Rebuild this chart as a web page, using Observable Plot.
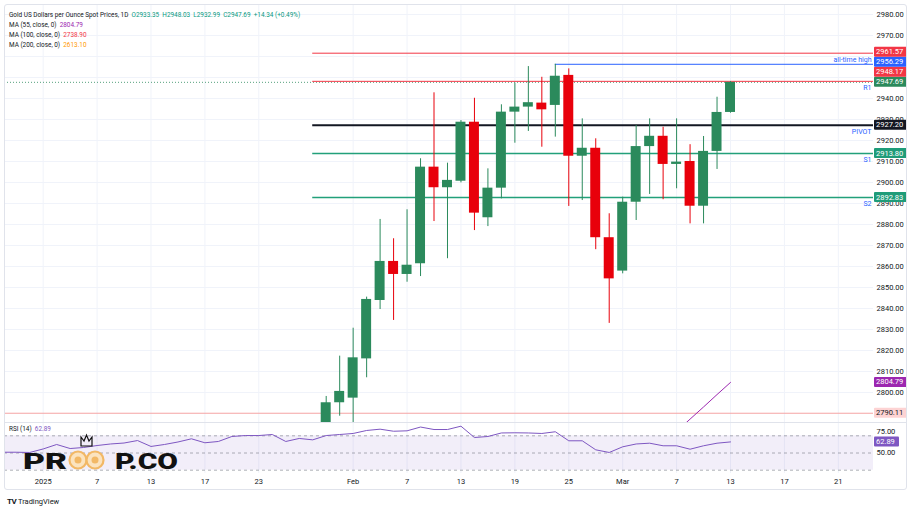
<!DOCTYPE html>
<html>
<head>
<meta charset="utf-8">
<script src="https://cdn.jsdelivr.net/npm/d3@7"></script>
<script src="https://cdn.jsdelivr.net/npm/@observablehq/plot@0.6"></script>
<style>
  html, body { margin: 0; padding: 0; background: #ffffff; }
  body { font-family: Roboto, "Liberation Sans", sans-serif; }
  #wrap { position: relative; width: 912px; height: 513px; overflow: hidden; background: #fff; }
  #frame { position: absolute; left: 4px; top: 4px; width: 903px; height: 486px; border: 1px solid #e0e3eb; border-radius: 3px; box-sizing: border-box; }
  #price { position: absolute; left: 0; top: 0; }
  #rsi { position: absolute; left: 0; top: 422px; }
  #sep { position: absolute; left: 4px; top: 422px; width: 903px; height: 1px; background: #e0e3eb; }
  .legend { position: absolute; left: 9px; top: 10px; font-size: 6.4px; line-height: 10px; color: #131722; white-space: nowrap; }
  .rsilab { position: absolute; left: 9px; top: 425px; font-size: 6.4px; color: #131722; white-space: nowrap; }
  #footer { position: absolute; left: 7px; top: 497px; font-size: 7.5px; color: #131722; white-space: nowrap; }
  #logo { position: absolute; left: 0; top: 422px; pointer-events: none; }
</style>
</head>
<body>
<div id="wrap">
  <div id="price"></div>
  <div id="rsi"></div>
  <div id="sep"></div>
  <div id="frame"></div>
  <div class="legend" id="legend"></div>
  <div class="rsilab" id="rsilab"></div>
  <svg id="logo" width="220" height="60"></svg>
  <div id="footer"><b style="font-size:8px;letter-spacing:-0.5px">TV</b> TradingView</div>
</div>
<script>
// ---------------- DATA ----------------
const barDays = ["Dec 27","Dec 30","Dec 31","Jan 1","Jan 2","Jan 3","Jan 6","Jan 7","Jan 8","Jan 9","Jan 10",
  "Jan 13","Jan 14","Jan 15","Jan 16","Jan 17","Jan 20","Jan 21","Jan 22","Jan 23","Jan 24","Jan 27","Jan 28",
  "Jan 29","Jan 30","Jan 31","Feb 3","Feb 4","Feb 5","Feb 6","Feb 7","Feb 10","Feb 11","Feb 12","Feb 13","Feb 14",
  "Feb 17","Feb 18","Feb 19","Feb 20","Feb 21","Feb 24","Feb 25","Feb 26","Feb 27","Feb 28","Mar 3","Mar 4",
  "Mar 5","Mar 6","Mar 7","Mar 10","Mar 11","Mar 12","Mar 13"];

const rsiValues = [50.9,50.9,50.6,54.7,59.9,55.2,56.4,58.7,60.5,61.6,64.5,
  57.6,59.9,62.8,66.5,61.9,63.4,69.2,70.3,70.3,71.5,63.4,66.9,
  65.3,70.3,71.5,72.7,76.2,77.7,75.3,75.8,80.2,77.3,77.3,81.2,68.0,
  69.2,73.3,73.5,73.3,72.7,74.7,64.2,64.2,53.7,50.6,57.2,60.5,
  61.4,58.4,58.4,54.4,58.4,61.4,62.89];

const candleDays = ["Jan 30","Jan 31","Feb 3","Feb 4","Feb 5","Feb 6","Feb 7","Feb 10","Feb 11","Feb 12","Feb 13",
  "Feb 14","Feb 17","Feb 18","Feb 19","Feb 20","Feb 21","Feb 24","Feb 25","Feb 26","Feb 27","Feb 28","Mar 3",
  "Mar 4","Mar 5","Mar 6","Mar 7","Mar 10","Mar 11","Mar 12","Mar 13"];
const openV  = [2764.0,2795.1,2797.3,2816.0,2843.8,2862.4,2856.2,2861.3,2907.3,2897.5,2900.6,
  2928.7,2883.2,2897.3,2933.5,2935.9,2937.8,2936.7,2951.0,2912.5,2916.3,2873.7,2857.8,
  2890.6,2917.1,2922.0,2908.6,2910.0,2888.7,2914.8,2933.35];
const highV  = [2798.1,2817.3,2830.6,2845.4,2882.4,2873.2,2887.0,2911.3,2942.7,2909.2,2929.5,
  2940.1,2906.5,2937.0,2947.3,2955.2,2950.1,2956.29,2954.1,2930.3,2920.8,2885.1,2893.0,
  2927.1,2930.3,2926.3,2930.3,2918.0,2921.9,2940.6,2948.03];
const lowV   = [2759.0,2788.7,2772.0,2807.0,2839.5,2834.3,2852.5,2855.2,2881.4,2863.7,2899.8,
  2877.1,2879.0,2892.2,2918.7,2924.3,2916.8,2921.6,2888.6,2891.4,2868.0,2832.9,2856.5,
  2881.9,2894.3,2891.8,2897.0,2880.3,2880.3,2906.2,2932.99];
const closeV = [2795.1,2800.5,2816.5,2844.3,2862.4,2856.2,2860.6,2907.3,2897.5,2901.0,2928.7,
  2885.4,2897.3,2933.5,2935.9,2938.0,2934.6,2950.6,2912.5,2916.3,2873.7,2854.1,2890.6,
  2917.1,2922.0,2908.6,2909.7,2888.7,2914.8,2933.35,2947.69];

const ma55Days = ["Mar 6","Mar 7","Mar 10","Mar 11","Mar 12","Mar 13"];
const ma55Values = [2775.7,2781.5,2787.3,2793.1,2799.0,2804.79];

const maNames  = ["MA (55, close, 0)","MA (100, close, 0)","MA (200, close, 0)"];
const maLast   = [2804.79, 2738.90, 2613.10];

const levelNames  = ["", "all-time high", "R1", "PIVOT", "S1", "S2"];
const levelValues = [2961.57, 2956.29, 2948.17, 2927.20, 2913.80, 2892.83];
const levelStart  = ["Jan 29","Feb 24","Jan 29","Jan 29","Jan 29","Jan 29"];
const markerLevel = 2790.11;

const priceTicks = [2800,2810,2820,2830,2840,2850,2860,2870,2880,2890,2900,2910,2920,2930,2940,2950,2960,2970,2980];
const tickDays   = ["Jan 1","Jan 7","Jan 13","Jan 17","Jan 23","Feb 3","Feb 7","Feb 13","Feb 19","Feb 25","Mar 3","Mar 7","Mar 13"];
const tickLabels = ["2025","7","13","17","23","Feb","7","13","19","25","Mar","7","13","17","21"];
const futureTickOffsets = [4, 8]; // bars after the last bar (Mar 17, Mar 21)
const rsiTicks = [75, 50];
const rsiBands = [70, 50, 30];

// ---------------- STYLE ----------------
const UP = "#2b8a5c", DN = "#e8000b";
const levelColors = ["#f23645", "#2962ff", "#f23645", "#131722", "#22a07a", "#22a07a"];
const levelWidths = [1, 1, 1, 2, 1.5, 1.5];
const GRID = "#f0f3fa";
const FONT = "Roboto, 'Liberation Sans', sans-serif";

// ---------------- BUILD ----------------
const pos = d => barDays.indexOf(d);
const lastPos = barDays.length - 1;
const tickPos = tickDays.map(pos).concat(futureTickOffsets.map(o => lastPos + o));
const xDomain = [0.13, 64.61];
const yDomain = [2785.7, 2984.76];

const candles = candleDays.map((d, k) => ({
  x: pos(d), o: openV[k], h: highV[k], l: lowV[k], c: closeV[k], up: closeV[k] >= openV[k]
}));
const ma55 = ma55Days.map((d, k) => ({x: pos(d), v: ma55Values[k]}));
const levels = levelNames.map((n, k) => ({
  name: n, v: levelValues[k], from: pos(levelStart[k]), color: levelColors[k], w: levelWidths[k]
}));
const rsi = barDays.map((d, k) => ({x: k, v: rsiValues[k]}));
const lastClose = closeV[closeV.length - 1];
const prevClose = closeV[closeV.length - 2];
const lastC = candles[candles.length - 1];

// legend
const chg = lastClose - prevClose;
const pct = chg / prevClose * 100;
const G = "#089981";
document.getElementById("legend").innerHTML =
  `<div>Gold US Dollars per Ounce Spot Prices, 1D&nbsp;&nbsp;<span style="color:${G}">O${lastC.o.toFixed(2)}&nbsp;&nbsp;H${lastC.h.toFixed(2)}&nbsp;&nbsp;L${lastC.l.toFixed(2)}&nbsp;&nbsp;C${lastC.c.toFixed(2)}&nbsp;&nbsp;${chg>=0?"+":""}${chg.toFixed(2)} (${pct>=0?"+":""}${pct.toFixed(2)}%)</span></div>` +
  maNames.map((n, k) => `<div>${n}&nbsp;&nbsp;<span style="color:${["#9c27b0","#f23645","#ff9800"][k]}">${maLast[k].toFixed(2)}</span></div>`).join("");
document.getElementById("rsilab").innerHTML =
  `RSI (14)&nbsp;&nbsp;<span style="color:#7e57c2">${rsiValues[rsiValues.length-1].toFixed(2)}</span>`;

// price-scale label boxes (values), stacked upward to avoid collisions like the price scale does
const boxes = [
  {v: markerLevel, bg: "#fdd3d3", fg: "#131722"},
  {v: ma55Values[ma55Values.length-1], bg: "#9c27b0", fg: "#fff"},
  {v: levelValues[5], bg: "#1f9c79", fg: "#fff"},
  {v: levelValues[4], bg: "#1f9c79", fg: "#fff"},
  {v: levelValues[3], bg: "#131722", fg: "#fff"},
  {v: lastClose, bg: UP, fg: "#fff"},
  {v: levelValues[2], bg: "#f23645", fg: "#fff"},
  {v: levelValues[1], bg: "#2962ff", fg: "#fff"},
  {v: levelValues[0], bg: "#f23645", fg: "#fff"}
];
// hide axis tick labels that are fully covered by a box (within 5 price units of one)
const coveredTicks = new Set(priceTicks.filter(t => boxes.some(b => Math.abs(b.v - t) < 2.6) ||
  (t === 2960 || t === 2950) && boxes.some(b => Math.abs(b.v - t) < 12)));

const price = Plot.plot({
  width: 912, height: 422,
  marginTop: 4, marginBottom: 0, marginLeft: 4, marginRight: 39,
  style: {fontSize: "7.5px", fontFamily: FONT, color: "#131722", background: "transparent", overflow: "visible"},
  color: {type: "identity"},
  x: {domain: xDomain, axis: null},
  y: {domain: yDomain, axis: "right", ticks: priceTicks.filter(t => !coveredTicks.has(t)), tickFormat: d => d.toFixed(2), tickSize: 0, tickPadding: 3, label: null},
  marks: [
    Plot.ruleY(priceTicks, {stroke: GRID}),
    Plot.ruleX(tickPos, {stroke: GRID}),
    Plot.ruleY([markerLevel], {stroke: "#f5a3a3", strokeWidth: 1}),
    Plot.ruleY([lastClose], {stroke: UP, strokeDasharray: "1,2", strokeOpacity: 0.8}),
    Plot.ruleY(levels, {y: "v", x1: "from", x2: () => xDomain[1], stroke: "color", strokeWidth: "w", clip: true}),
    Plot.ruleX(candles, {x: "x", y1: "l", y2: "h", stroke: d => d.up ? UP : DN, strokeWidth: 1, clip: true}),
    Plot.rect(candles, {x1: d => d.x - 0.37, x2: d => d.x + 0.37, y1: "o", y2: "c", fill: d => d.up ? UP : DN, clip: true}),
    Plot.line(ma55, {x: "x", y: "v", stroke: "#9c27b0", strokeWidth: 1, clip: true}),
    Plot.text(levels.filter(d => d.name === "all-time high"), {y: "v", text: "name", frameAnchor: "right", textAnchor: "end", dx: -2, dy: -5, fill: "#2962ff", fontSize: 7}),
    Plot.text(levels.filter(d => d.name && d.name !== "all-time high"), {y: "v", text: "name", frameAnchor: "right", textAnchor: "end", dx: -2, dy: 6, fill: "#2962ff", fontSize: 7})
  ]
});
document.getElementById("price").appendChild(price);

const ys = price.scale("y");
let prevY = Infinity;
for (const b of boxes) {
  let y = ys.apply(b.v);
  y = Math.min(y, prevY - 10);
  b.py = y; prevY = y;
}
const bg = d3.select(price).append("g").attr("text-anchor", "start");
for (const b of boxes) {
  bg.append("rect").attr("x", 874).attr("y", b.py - 5).attr("width", 33).attr("height", 10).attr("rx", 1).attr("fill", b.bg);
  bg.append("text").attr("x", 876).attr("y", b.py).attr("dy", "0.34em").attr("fill", b.fg)
    .attr("text-anchor", "start").attr("font-size", 7.5).attr("font-family", FONT).text(b.v.toFixed(2));
}

// RSI pane
const rsiPlot = Plot.plot({
  width: 912, height: 70,
  marginTop: 0, marginBottom: 19, marginLeft: 4, marginRight: 39,
  style: {fontSize: "7.5px", fontFamily: FONT, color: "#131722", background: "transparent", overflow: "visible"},
  x: {domain: xDomain, ticks: tickPos, tickFormat: p => tickLabels[tickPos.indexOf(p)], tickSize: 0, tickPadding: 5, label: null},
  y: {domain: [26.16, 85.47], axis: "right", ticks: rsiTicks, tickFormat: d => d.toFixed(2), tickSize: 0, tickPadding: 3, label: null},
  marks: [
    Plot.ruleX(tickPos, {stroke: GRID}),
    Plot.rect([{lo: rsiBands[2], hi: rsiBands[0]}], {y1: "lo", y2: "hi", fill: "#7e57c2", fillOpacity: 0.1}),
    Plot.ruleY(rsiBands, {stroke: "#787b86", strokeDasharray: "3,3", strokeOpacity: 0.6}),
    Plot.line(rsi, {x: "x", y: "v", stroke: "#7e57c2", strokeWidth: 1, clip: true})
  ]
});
document.getElementById("rsi").appendChild(rsiPlot);
const rys = rsiPlot.scale("y");
const rl = rsiValues[rsiValues.length - 1];
const rg = d3.select(rsiPlot).append("g").attr("text-anchor", "start");
rg.append("rect").attr("x", 874).attr("y", rys.apply(rl) - 5).attr("width", 25).attr("height", 10).attr("rx", 1).attr("fill", "#7e57c2");
rg.append("text").attr("x", 876).attr("y", rys.apply(rl)).attr("dy", "0.34em").attr("fill", "#fff")
  .attr("text-anchor", "start").attr("font-size", 7.5).attr("font-family", FONT).text(rl.toFixed(2));

// watermark logo
const lg = d3.select("#logo");
lg.append("text").attr("x", 23).attr("y", 46.5).attr("font-family", "Roboto, sans-serif").attr("font-weight", 900)
  .attr("font-size", 22).attr("textLength", 44).attr("lengthAdjust", "spacingAndGlyphs").attr("fill", "#111").text("PR");
lg.append("text").attr("x", 115).attr("y", 46.5).attr("font-family", "Roboto, sans-serif").attr("font-weight", 900)
  .attr("font-size", 22).attr("textLength", 63).attr("lengthAdjust", "spacingAndGlyphs").attr("fill", "#111").text("P.CO");
for (const cx of [78, 95]) {
  lg.append("circle").attr("cx", cx).attr("cy", 38).attr("r", 8.5).attr("fill", "#fbe3bf").attr("stroke", "#f2b866").attr("stroke-width", 2.2);
  lg.append("circle").attr("cx", cx).attr("cy", 38).attr("r", 3.5).attr("fill", "#f2b866");
}
lg.append("path").attr("d", "M81,24 L81,15 L84,19 L86.5,13 L89,19 L92,15 L92,24 Z").attr("fill", "none").attr("stroke", "#111").attr("stroke-width", 1.2);
</script>
</body>
</html>
